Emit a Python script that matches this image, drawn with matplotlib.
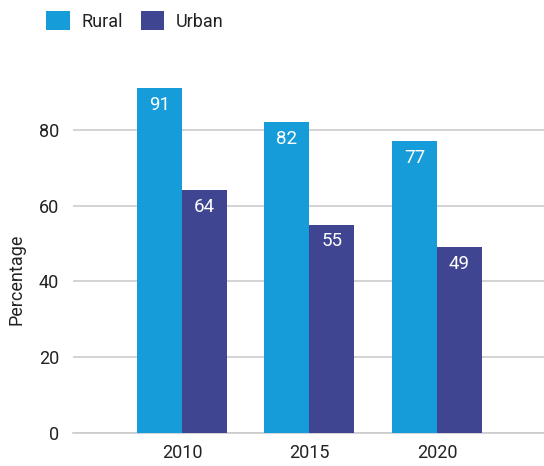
import matplotlib.pyplot as plt
import numpy as np

years = ['2010', '2015', '2020']
rural = [91, 82, 77]
urban = [64, 55, 49]

rural_color = '#159cd9'
urban_color = '#3f4591'

plt.rcParams['font.family'] = ['Roboto', 'DejaVu Sans']

fig = plt.figure(figsize=(5.44, 4.66), dpi=100)
ax = fig.add_axes([73 / 544, 1 - 433 / 466, 1 - 73 / 544, (433 - 54) / 466])

x = np.arange(len(years))
w = 0.353
b1 = ax.bar(x - w / 2, rural, width=w, color=rural_color, label='Rural', zorder=3)
b2 = ax.bar(x + w / 2, urban, width=w, color=urban_color, label='Urban', zorder=3)

# value labels inside the top of each bar
for bars in (b1, b2):
    for rect in bars:
        ax.annotate(str(int(rect.get_height())),
                    (rect.get_x() + rect.get_width() / 2, rect.get_height()),
                    xytext=(0, -5.5), textcoords='offset points',
                    ha='center', va='top', color='white', fontsize=13.5, zorder=4)

ax.set_xlim(-0.855, 2.84)
ax.set_ylim(0, 100)
ax.set_yticks([0, 20, 40, 60, 80])
ax.set_xticks(x)
ax.set_xticklabels(years)
ax.grid(axis='y', color='#cccccc', linewidth=1.2, zorder=0)
ax.tick_params(axis='both', length=0, labelsize=13, colors='#222222')
ax.tick_params(axis='y', pad=10)
ax.tick_params(axis='x', pad=8)
for s in ['top', 'right', 'left']:
    ax.spines[s].set_visible(False)
ax.spines['bottom'].set_color('#cccccc')
ax.spines['bottom'].set_linewidth(1.2)

fig.text(17 / 544, 1 - 279 / 466, 'Percentage', rotation=90, ha='center',
         va='center', fontsize=13, color='#222222')

fig.legend(handles=[b1, b2], loc='upper left', bbox_to_anchor=(0.055, 1.012),
           ncol=2, frameon=False, fontsize=13, handlelength=1.3, handleheight=1.3,
           handletextpad=0.65, columnspacing=1.0, labelcolor='#222222')

plt.savefig('out.png', dpi=100)
